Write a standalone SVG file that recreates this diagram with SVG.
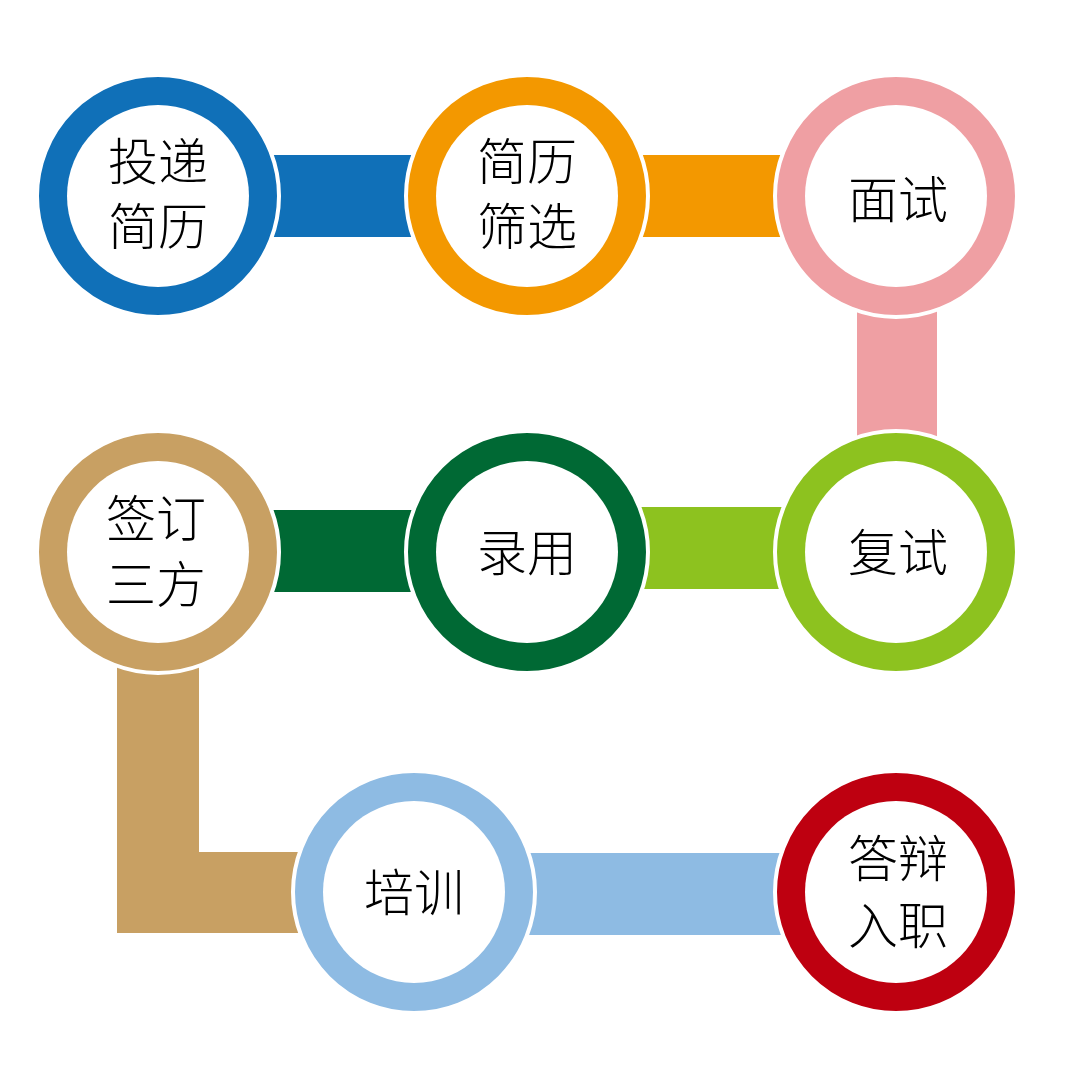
<svg xmlns="http://www.w3.org/2000/svg" width="1067" height="1066" viewBox="0 0 1067 1066">
<style>
.ring{stroke:#fff;stroke-width:4}
.hole{fill:#fff}
.t{font-family:"Noto Sans CJK SC","Noto Sans",sans-serif;font-size:50px;font-weight:300;fill:#000;text-anchor:middle}
</style>
<rect width="1067" height="1066" fill="#fff"/>
<g id="connectors">
<rect x="268" y="155" width="150" height="82" fill="#1070B8"/>
<rect x="638" y="155" width="150" height="82" fill="#F39800"/>
<rect x="857" y="300" width="80" height="145" fill="#EF9FA3"/>
<rect x="268" y="510" width="150" height="82" fill="#006934"/>
<rect x="638" y="507" width="150" height="82" fill="#8DC21F"/>
<path d="M117,655 H199 V852 H305 V933 H117 Z" fill="#C8A063"/>
<rect x="520" y="853" width="268" height="82" fill="#8EBBE3"/>
</g>
<g id="n1">
<circle class="ring" cx="158" cy="196" r="121" fill="#1070B8"/>
<circle class="hole" cx="158" cy="196" r="91"/>
<text class="t" x="158" y="180">投递</text>
<text class="t" x="158" y="245">简历</text>
</g>
<g id="n2">
<circle class="ring" cx="527" cy="196" r="121" fill="#F39800"/>
<circle class="hole" cx="527" cy="196" r="91"/>
<text class="t" x="527" y="180">简历</text>
<text class="t" x="527" y="245">筛选</text>
</g>
<g id="n3">
<circle class="ring" cx="896" cy="196" r="121" fill="#EF9FA3"/>
<circle class="hole" cx="896" cy="196" r="91"/>
<text class="t" x="898" y="218">面试</text>
</g>
<g id="n4">
<circle class="ring" cx="158" cy="552" r="121" fill="#C8A063"/>
<circle class="hole" cx="158" cy="552" r="91"/>
<text class="t" x="156" y="537">签订</text>
<text class="t" x="156" y="603">三方</text>
</g>
<g id="n5">
<circle class="ring" cx="527" cy="552" r="121" fill="#006934"/>
<circle class="hole" cx="527" cy="552" r="91"/>
<text class="t" x="527" y="571">录用</text>
</g>
<g id="n6">
<circle class="ring" cx="896" cy="552" r="121" fill="#8DC21F"/>
<circle class="hole" cx="896" cy="552" r="91"/>
<text class="t" x="898" y="571">复试</text>
</g>
<g id="n7">
<circle class="ring" cx="414" cy="892" r="121" fill="#8EBBE3"/>
<circle class="hole" cx="414" cy="892" r="91"/>
<text class="t" x="414" y="911">培训</text>
</g>
<g id="n8">
<circle class="ring" cx="896" cy="892" r="121" fill="#BE0010"/>
<circle class="hole" cx="896" cy="892" r="91"/>
<text class="t" x="898" y="877">答辩</text>
<text class="t" x="898" y="944">入职</text>
</g>
</svg>
